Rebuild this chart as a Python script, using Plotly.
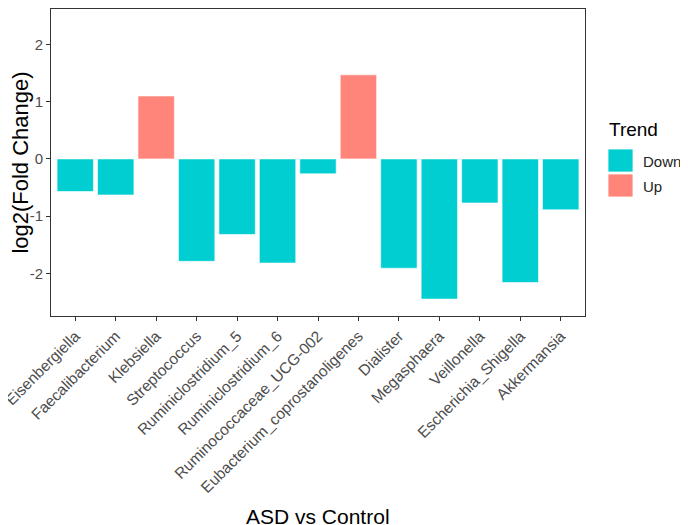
import plotly.graph_objects as go

genera = ["Eisenbergiella", "Faecalibacterium", "Klebsiella", "Streptococcus",
          "Ruminiclostridium_5", "Ruminiclostridium_6", "Ruminococcaceae_UCG-002",
          "Eubacterium_coprostanoligenes", "Dialister", "Megasphaera", "Veillonella",
          "Escherichia_Shigella", "Akkermansia"]
log2fc = [-0.57, -0.63, 1.10, -1.79, -1.32, -1.82, -0.26, 1.47, -1.91, -2.45, -0.77, -2.16, -0.89]
trend = ["Up" if v > 0 else "Down" for v in log2fc]
y_ticks = [-2, -1, 0, 1, 2]
y_ticktext = ["-2", "-1", "0", "1", "2"]

colors = {"Down": "#00CED1", "Up": "#FF857A"}
FONT = "Arial, Liberation Sans, sans-serif"

# page has an 8px body offset; plot area in screen px: x 51..585, y 9..316
PX0, PX1, PY0, PY1 = 51, 585, 9, 316


def fx(sx):
    return (sx - PX0) / (PX1 - PX0)


def fy(sy):
    return (PY1 - sy) / (PY1 - PY0)


fig = go.Figure()
for t in ["Down", "Up"]:
    xs = [g for g, tr in zip(genera, trend) if tr == t]
    ys = [v for v, tr in zip(log2fc, trend) if tr == t]
    fig.add_trace(go.Bar(x=xs, y=ys, name=t,
                         marker=dict(color=colors[t], line=dict(color="rgba(255,255,255,0.6)", width=1)),
                         width=0.9, showlegend=False))

fig.update_layout(
    width=680, height=517,
    margin=dict(l=43, r=103, t=1, b=209, autoexpand=False),
    paper_bgcolor="white", plot_bgcolor="white",
    font=dict(family=FONT, color="#4D4D4D"),
    barmode="overlay",
    showlegend=False,
    xaxis=dict(categoryorder="array", categoryarray=genera, tickangle=-45,
               tickfont=dict(size=15.5, color="#4D4D4D"), automargin=False,
               showline=True, linecolor="#333333", linewidth=1, mirror=True,
               ticks="outside", ticklen=4, tickcolor="#333333", showgrid=False,
               range=[-0.6, 12.6]),
    yaxis=dict(range=[-2.745, 2.62], tickvals=y_ticks, ticktext=y_ticktext,
               tickfont=dict(size=15, color="#4D4D4D"), automargin=False,
               showline=True, linecolor="#333333", linewidth=1, mirror=True,
               ticks="outside", ticklen=4, tickcolor="#333333", showgrid=False,
               zeroline=False,
               title=dict(text="log2(Fold Change)", font=dict(size=22, color="black"), standoff=0)),
)
fig.add_annotation(text="ASD vs Control", xref="paper", yref="paper", x=0.5, y=0,
                   yshift=-187, showarrow=False, yanchor="top",
                   font=dict(size=21, color="black"))

# Legend (drawn manually to match key sizes)
legend_items = ["Down", "Up"]
fig.add_annotation(text="Trend", xref="paper", yref="paper", x=fx(607), y=fy(130),
                   showarrow=False, xanchor="left", yanchor="middle", font=dict(size=19, color="black"))
for i, name in enumerate(legend_items):
    top = 149 + i * 25
    fig.add_shape(type="rect", xref="paper", yref="paper",
                  x0=fx(608), x1=fx(633), y0=fy(top), y1=fy(top + 23),
                  fillcolor=colors[name], line=dict(color="rgba(255,255,255,0.8)", width=1))
    fig.add_annotation(text=name, xref="paper", yref="paper", x=fx(641),
                       y=fy(top + 12), showarrow=False, xanchor="left",
                       yanchor="middle", font=dict(size=15, color="#222222"))
fig.write_html("out.html")
